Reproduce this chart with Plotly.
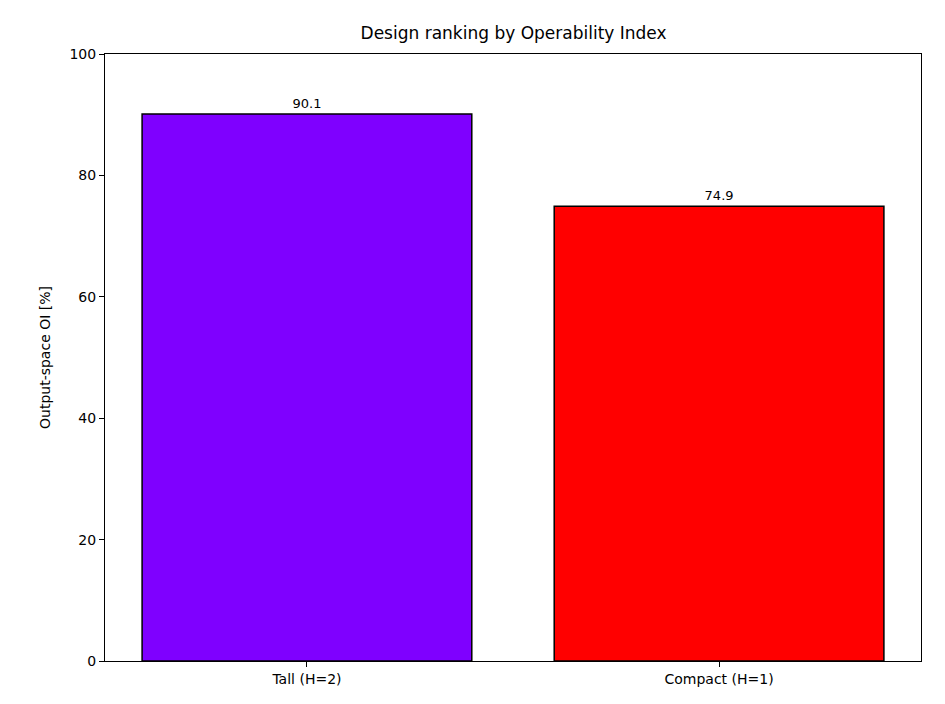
import plotly.graph_objects as go

designs = ["Tall (H=2)", "Compact (H=1)"]
oi_values = [90.1, 74.9]
bar_colors = ["#7f00ff", "#ff0000"]

fig = go.Figure(
    go.Bar(
        x=[0, 1],
        y=oi_values,
        width=0.8,
        marker=dict(color=bar_colors, line=dict(color="black", width=1.5)),
        text=[f"{v:.1f}" for v in oi_values],
        textposition="outside",
        textfont=dict(size=13, color="black"),
        cliponaxis=False,
    )
)

axis_common = dict(
    showline=True, linecolor="black", linewidth=1, mirror=True,
    ticks="outside", ticklen=5, tickcolor="black", showgrid=False, zeroline=False,
    tickfont=dict(size=14, color="black"),
)

fig.update_layout(
    width=945, height=704,
    margin=dict(l=97, r=32, t=46, b=51),
    paper_bgcolor="white", plot_bgcolor="white",
    font=dict(family="DejaVu Sans", color="black"),
    title=dict(text="Design ranking by Operability Index", x=0.535, xanchor="center",
               y=0.965, yanchor="middle", font=dict(size=17)),
    showlegend=False,
    xaxis=dict(range=[-0.49, 1.49], tickvals=[0, 1], ticktext=designs, **axis_common),
    yaxis=dict(range=[0, 100], dtick=20, title=dict(text="Output-space OI [%]", font=dict(size=14)),
               **axis_common),
)

fig.write_html("out.html")
